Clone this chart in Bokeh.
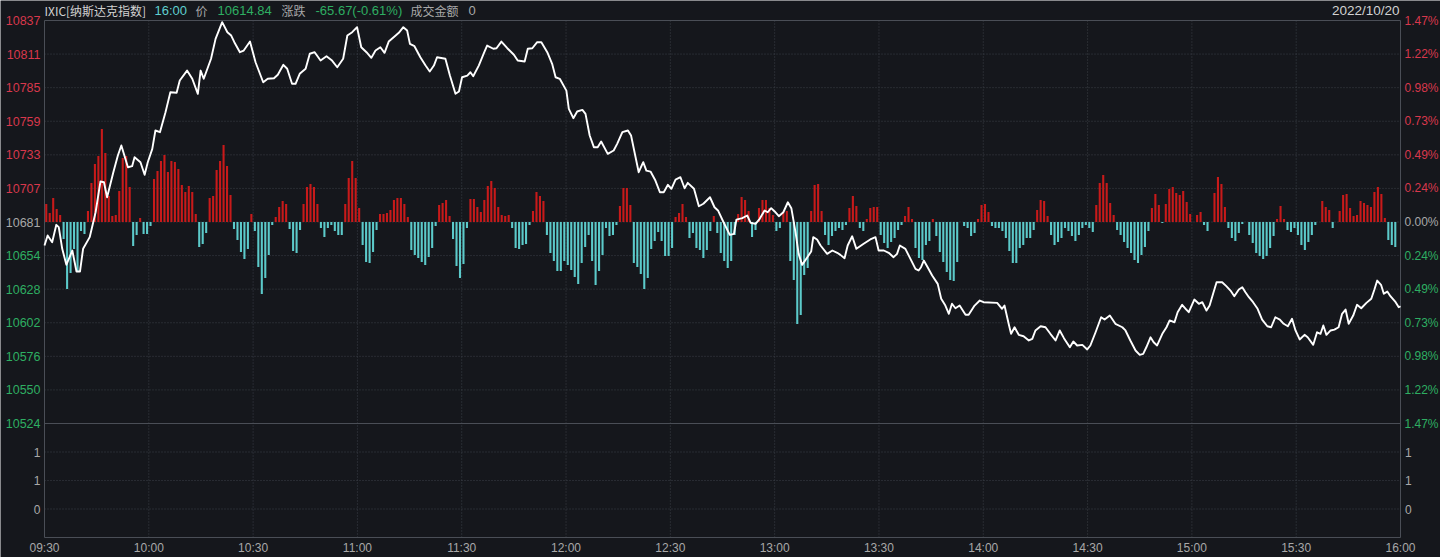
from bokeh.plotting import figure
from bokeh.models import Range1d, LabelSet, Label, ColumnDataSource
from bokeh.embed import file_html
from bokeh.resources import INLINE
from bokeh.core.properties import value

# ---------------- data ----------------
symbol_name = "IXIC[纳斯达克指数]"
quote_time = "16:00"
trade_date = "2022/10/20"
prev_close = 10680.51
last_price = 10614.84
change = -65.67
change_pct = -0.61
turnover = "0"
range_pct = 1.47

# price line: minutes since 09:30 and index level
line_min = [
    0, 0.9, 2.2, 3.4, 4.1, 5.1, 6.3, 8.0, 9.2, 10.2,
    11.1, 13.0, 14.7, 16.1, 17.1, 18.0, 19.8, 21.1, 22.1, 24.0,
    25.2, 25.9, 27.6, 28.8, 29.7, 31.0, 31.9, 33.2, 34.8, 36.2,
    38.0, 38.9, 41.0, 42.5, 44.1, 44.9, 45.8, 47.9, 49.2, 51.1,
    52.6, 53.7, 54.6, 56.2, 57.3, 59.1, 60.7, 62.9, 64.2, 66.0,
    67.1, 68.7, 69.8, 71.2, 72.2, 73.4, 75.1, 76.3, 77.7, 79.4,
    81.1, 82.7, 84.2, 85.9, 87.1, 88.5, 89.9, 91.1, 92.6, 94.0,
    95.2, 96.6, 97.8, 99.0, 101.0, 101.9, 103.2, 104.3, 105.1, 106.4,
    108.1, 109.6, 110.8, 112.0, 112.9, 115.3, 116.6, 118.2, 119.2, 120.1,
    121.6, 122.5, 123.3, 124.9, 126.4, 127.3, 129.1, 130.0, 131.4, 133.1,
    135.0, 136.1, 138.1, 139.0, 140.3, 141.7, 142.9, 144.6, 146.0, 147.0,
    148.2, 150.1, 150.8, 152.1, 153.2, 154.7, 155.6, 156.8, 158.0, 159.1,
    160.1, 162.0, 163.7, 164.7, 166.2, 167.8, 168.7, 170.0, 170.9, 172.2,
    173.1, 174.3, 175.7, 177.0, 178.1, 179.3, 180.3, 181.5, 182.9, 184.1,
    185.0, 186.8, 188.2, 189.5, 191.4, 192.7, 193.7, 195.2, 197.1, 198.3,
    199.0, 200.7, 202.1, 203.1, 204.5, 205.7, 207.1, 208.0, 209.0, 210.0,
    211.2, 212.5, 213.8, 214.8, 216.0, 216.9, 217.9, 219.4, 220.5, 221.1,
    222.2, 223.2, 225.1, 226.6, 228.0, 228.9, 230.1, 231.0, 232.3, 233.5,
    235.6, 237.5, 239.0, 239.9, 241.4, 242.8, 244.2, 245.2, 246.0, 247.6,
    248.8, 250.5, 251.4, 252.1, 252.9, 254.0, 255.3, 256.9, 257.9, 259.1,
    260.1, 261.0, 262.0, 263.2, 264.9, 265.8, 267.5, 269.0, 270.1, 274.0,
    275.4, 276.1, 277.3, 278.0, 279.0, 280.2, 281.6, 283.1, 284.1, 285.0,
    286.5, 287.9, 289.3, 290.8, 292.0, 293.2, 294.9, 295.9, 297.0, 298.5,
    299.9, 300.8, 302.3, 303.9, 304.9, 306.4, 308.0, 310.0, 310.9, 312.3,
    313.8, 315.0, 316.0, 316.9, 318.1, 319.0, 320.0, 321.5, 322.7, 323.6,
    325.0, 325.9, 327.2, 328.2, 329.1, 330.7, 332.0, 333.0, 334.2, 335.1,
    336.1, 337.1, 338.7, 339.9, 341.1, 342.2, 343.5, 344.5, 345.4, 346.4,
    347.6, 348.9, 350.2, 351.7, 352.8, 354.0, 355.3, 356.4, 357.6, 358.8,
    359.8, 361.0, 362.4, 363.3, 364.9, 366.0, 367.0, 367.8, 368.7, 369.9,
    371.0, 372.2, 373.2, 374.2, 375.1, 376.4, 377.5, 378.7, 380.2, 381.6,
    382.5, 383.3, 384.4, 385.2, 386.2, 387.1, 388.6, 389.5, 390,
]
line_price = [
    10662.2, 10670.0, 10664.8, 10678.3, 10676.5, 10659.6, 10647.2, 10658.3, 10641.9, 10641.9,
    10659.6, 10668.7, 10688.1, 10712.1, 10711.5, 10699.8, 10719.3, 10732.3, 10740.1, 10723.2,
    10724.0, 10731.0, 10727.1, 10717.3, 10727.1, 10737.5, 10751.8, 10750.5, 10766.1, 10781.6,
    10781.2, 10790.8, 10798.5, 10792.1, 10780.4, 10798.5, 10792.1, 10807.7, 10823.2, 10836.2,
    10828.4, 10825.8, 10820.6, 10812.8, 10814.1, 10821.1, 10805.0, 10789.4, 10792.1, 10792.5,
    10795.2, 10803.0, 10799.9, 10788.2, 10788.2, 10796.0, 10799.9, 10811.6, 10812.8, 10806.3,
    10809.7, 10806.3, 10801.1, 10807.7, 10825.8, 10828.4, 10832.3, 10816.7, 10812.8, 10808.4,
    10814.1, 10816.7, 10812.3, 10821.1, 10825.8, 10827.9, 10832.3, 10829.7, 10819.3, 10817.5,
    10808.9, 10802.4, 10797.8, 10802.4, 10808.9, 10807.7, 10794.6, 10780.4, 10782.2, 10793.3,
    10794.6, 10797.2, 10794.1, 10802.4, 10812.3, 10818.0, 10815.5, 10815.9, 10821.1, 10815.9,
    10810.8, 10806.3, 10805.6, 10815.5, 10815.9, 10820.6, 10820.6, 10812.8, 10803.8, 10793.3,
    10792.1, 10782.9, 10768.7, 10761.4, 10766.6, 10767.9, 10764.8, 10747.9, 10738.8, 10738.8,
    10743.2, 10733.6, 10736.2, 10741.4, 10750.5, 10751.8, 10747.9, 10731.0, 10719.3, 10727.1,
    10720.6, 10719.8, 10712.8, 10703.7, 10703.7, 10709.5, 10706.4, 10713.6, 10715.4, 10706.8,
    10711.0, 10706.4, 10692.8, 10694.7, 10699.8, 10692.0, 10689.5, 10680.9, 10670.5, 10671.3,
    10682.4, 10683.5, 10685.6, 10679.9, 10679.1, 10683.0, 10689.5, 10688.1, 10691.3, 10688.7,
    10685.0, 10688.1, 10695.9, 10691.3, 10672.6, 10655.7, 10647.1, 10653.1, 10657.5, 10668.7,
    10666.9, 10662.2, 10655.7, 10658.3, 10656.5, 10654.9, 10652.3, 10662.2, 10669.4, 10659.6,
    10663.5, 10666.9, 10668.7, 10658.3, 10658.3, 10656.5, 10653.1, 10655.7, 10662.2, 10659.6,
    10653.1, 10644.0, 10642.7, 10645.3, 10650.5, 10645.3, 10638.8, 10632.3, 10620.7, 10615.4,
    10609.0, 10616.8, 10613.3, 10615.4, 10608.2, 10608.2, 10615.4, 10619.3, 10618.0, 10617.5,
    10612.9, 10615.4, 10601.2, 10593.4, 10598.5, 10592.6, 10591.5, 10588.2, 10589.5, 10596.0,
    10599.3, 10598.5, 10593.4, 10588.2, 10596.0, 10590.0, 10582.9, 10587.4, 10584.3, 10584.8,
    10581.2, 10584.3, 10594.6, 10606.3, 10604.5, 10607.6, 10601.2, 10598.5, 10596.0, 10588.2,
    10580.4, 10577.0, 10577.8, 10582.9, 10590.7, 10586.8, 10584.3, 10593.4, 10598.5, 10603.8,
    10602.4, 10610.2, 10616.0, 10612.9, 10610.2, 10620.1, 10616.8, 10618.0, 10611.5, 10615.4,
    10624.6, 10633.6, 10633.6, 10630.5, 10627.1, 10622.7, 10627.9, 10629.7, 10625.8, 10621.9,
    10618.0, 10612.9, 10604.5, 10599.3, 10598.5, 10606.3, 10604.5, 10601.2, 10599.3, 10605.1,
    10596.0, 10589.0, 10592.6, 10590.7, 10584.8, 10594.6, 10593.4, 10599.9, 10592.6, 10596.0,
    10596.7, 10598.5, 10609.0, 10612.3, 10601.2, 10607.6, 10616.0, 10613.3, 10617.5, 10620.7,
    10627.9, 10634.9, 10631.6, 10624.6, 10626.3, 10622.7, 10618.0, 10614.1, 10614.84,
]

# per-minute flow indicator (one bar per minute, 390 bars)
flow = [
    18, 9, 24, 13, 7, -17, -67, -51, -27, -49,
    -9, -12, 11, 39, 58, 66, 93, 69, 26, 6,
    7, 31, 64, 66, 35, -24, -13, 4, -12, -12,
    -4, 43, 51, 61, 67, 50, 61, 60, 53, 37,
    30, 36, 30, 8, -25, -22, -11, 24, 26, 52,
    61, 77, 56, 27, -7, -18, -30, -37, -27, 8,
    -9, -45, -72, -56, -33, -3, 5, 15, 21, 18,
    -7, -29, -31, -8, 18, 35, 38, 35, 18, -6,
    -15, -6, -3, -9, -13, -13, 18, 44, 61, 44,
    14, -23, -40, -41, -30, -8, 8, 8, 9, 12,
    22, 24, 24, 18, 5, -28, -33, -36, -40, -43,
    -35, -26, -4, 17, 19, 22, 6, -17, -44, -56,
    -42, -6, 23, 23, 15, 10, 22, 36, 41, 34,
    15, 7, 6, 7, -6, -26, -27, -23, -22, -3,
    11, 30, 26, 21, -13, -31, -39, -49, -49, -39,
    -43, -48, -55, -62, -41, -25, -13, -39, -63, -49,
    -33, -6, -14, -13, -3, 16, 34, 34, 17, -41,
    -45, -52, -67, -56, -27, -19, -10, -19, -34, -34,
    -26, 5, 9, 18, 5, -16, -11, -26, -28, -36,
    -28, -9, 6, -11, -31, -39, -46, -39, -13, 8,
    25, 22, 11, -15, -8, 14, 22, 22, 14, 7,
    -9, -6, 9, 11, -39, -58, -102, -93, -53, -46,
    11, 37, 38, 11, -13, -23, -14, -9, -6, -8,
    -3, 14, 26, 16, -6, -9, 3, 14, 15, 15,
    -13, -21, -26, -20, -16, -8, -3, 6, 15, 3,
    -26, -36, -38, -23, -19, 3, -14, -30, -40, -50,
    -58, -59, -40, 0, -4, -6, -14, -11, 3, 17,
    18, 10, -4, -6, -6, -9, -16, -29, -41, -41,
    -26, -23, -16, -16, -8, 12, 22, 21, 6, -13,
    -23, -20, -16, -6, -9, -14, -19, -13, -6, -3,
    -6, -10, 17, 39, 47, 39, 19, 7, -8, -13,
    -20, -26, -31, -38, -41, -33, -25, -9, 14, 28,
    17, -1, 18, 33, 35, 29, 27, 31, 20, 8,
    0, 7, 10, -3, -9, 0, 29, 45, 38, 15,
    -6, -16, -19, -11, -2, 0, -13, -21, -31, -34,
    -37, -34, -26, -14, 3, 16, 3, -8, -10, -6,
    -13, -23, -28, -20, -13, -3, 0, 21, 15, 12,
    -6, 0, 11, 27, 28, 14, 6, 7, 21, 19,
    17, 15, 30, 35, 28, 4, -18, -23, -25, 0,
]

price_tick_labels = ["10837", "10811", "10785", "10759", "10733", "10707", "10681",
                     "10654", "10628", "10602", "10576", "10550", "10524"]
pct_tick_labels = ["1.47%", "1.22%", "0.98%", "0.73%", "0.49%", "0.24%", "0.00%",
                   "0.24%", "0.49%", "0.73%", "0.98%", "1.22%", "1.47%"]
time_tick_min = [0, 30, 60, 90, 120, 150, 180, 210, 240, 270, 300, 330, 360, 390]
time_tick_labels = ["09:30", "10:00", "10:30", "11:00", "11:30", "12:00", "12:30",
                    "13:00", "13:30", "14:00", "14:30", "15:00", "15:30", "16:00"]
lower_tick_vals = [1.125, 0.75, 0.375]
lower_tick_labels = ["1", "1", "0"]
lower_max = 1.5

# ---------------- style / layout ----------------
BG = "#15171c"
GRID = "#3c4048"
BORDER = "#4a4e56"
RED_BAR = "#c81a1a"
CYAN_BAR = "#5ccaca"
RED_TXT = "#d8384c"
GREEN_TXT = "#2eae62"
GRAY_TXT = "#a8a8a8"
LIGHT_TXT = "#d2d2d2"
CYAN_TXT = "#5fcfcf"
FONT = "Liberation Sans"
CJK = "Noto Sans CJK SC"

W, H = 1440, 557                 # whole canvas is the plot frame
PL, PR = 44, 1400                # chart area, pixels
PT, PMAIN, PBOT = 20, 423, 537   # top, main-panel bottom, lower-panel bottom

half = prev_close * range_pct / 100.0
y_hi = prev_close + half
y_main_lo = prev_close - half
px_per_pt = (PMAIN - PT) / (y_hi - y_main_lo)
px_per_min = (PR - PL) / 390.0

x_start = -PL / px_per_min
x_end = 390 + (W - PR) / px_per_min
y_end = y_hi + PT / px_per_pt
y_start = y_main_lo - (H - PMAIN) / px_per_pt
y_panel_bot = y_main_lo - (PBOT - PMAIN) / px_per_pt

zero_px = (PT + PMAIN) / 2.0
flow_range = Range1d(-(H - zero_px), zero_px)
vol_per_px = lower_max / (PBOT - PMAIN)
vol_range = Range1d(-(H - PBOT) * vol_per_px, lower_max + PMAIN * vol_per_px)

step = half / 6.0
price_ticks = [y_hi - k * step for k in range(13)]
tick_colors = [RED_TXT] * 6 + [GRAY_TXT] + [GREEN_TXT] * 6

p = figure(frame_width=W, frame_height=H,
           x_range=Range1d(x_start, x_end), y_range=Range1d(y_start, y_end),
           x_axis_location=None, y_axis_location=None, title=None,
           output_backend="svg", toolbar_location=None,
           min_border=0)
p.extra_y_ranges = {"flow": flow_range, "vol": vol_range}
p.background_fill_color = BG
p.border_fill_color = BG
p.outline_line_color = None
p.grid.visible = False

# dotted grid lines
vx = time_tick_min[1:-1]
p.segment(x0=vx, x1=vx, y0=[y_panel_bot] * len(vx), y1=[y_hi] * len(vx),
          line_color=GRID, line_dash="1 2", line_width=1)
hy = price_ticks[1:-1]
p.segment(x0=[0] * len(hy), x1=[390] * len(hy), y0=hy, y1=hy,
          line_color=GRID, line_dash="1 2", line_width=1)
p.segment(x0=[0] * 3, x1=[390] * 3, y0=lower_tick_vals, y1=lower_tick_vals,
          line_color=GRID, line_dash="1 2", line_width=1, y_range_name="vol")

# panel borders
p.segment(x0=[0, 390, 0, 0, 0], x1=[0, 390, 390, 390, 390],
          y0=[y_panel_bot, y_panel_bot, y_hi, y_main_lo, y_panel_bot],
          y1=[y_hi, y_hi, y_hi, y_main_lo, y_panel_bot],
          line_color=BORDER, line_width=1)

# flow bars
bar_x = [i + 0.5 for i in range(len(flow))]
bar_col = [RED_BAR if v >= 0 else CYAN_BAR for v in flow]
p.vbar(x=bar_x, top=flow, bottom=0, width=0.6, fill_color=bar_col,
       line_color=None, y_range_name="flow")

# price line
p.line(line_min, line_price, line_color="#ffffff", line_width=1.9,
       line_join="round")

def labelset(xs, ys, texts, colors, align, xoff, yoff=0, rng="default", fs="12px"):
    src = ColumnDataSource(dict(x=xs, y=ys, text=texts, c=colors))
    p.add_layout(LabelSet(x="x", y="y", text="text", source=src,
                          x_offset=xoff, y_offset=yoff, y_range_name=rng,
                          text_align=align, text_baseline="middle", text_color="c",
                          text_font=value(FONT), text_font_size=fs))

labelset([0] * 13, price_ticks, price_tick_labels, tick_colors, "right", -4, fs="12.5px")
labelset([390] * 13, price_ticks, pct_tick_labels, tick_colors, "left", 4)
labelset([0] * 3, lower_tick_vals, lower_tick_labels, ["#a9a9a9"] * 3, "right", -4, 0, "vol")
labelset([390] * 3, lower_tick_vals, lower_tick_labels, ["#a9a9a9"] * 3, "left", 4.5, 0, "vol")
labelset(time_tick_min, [y_panel_bot] * 14, time_tick_labels, [GRAY_TXT] * 14,
         "center", 0, -10)

# header
header = [
    (symbol_name, 0, LIGHT_TXT, CJK, "12px"),
    (quote_time, 110, CYAN_TXT, FONT, "13px"),
    ("价", 151, GRAY_TXT, CJK, "12px"),
    (f"{last_price:.2f}", 173, GREEN_TXT, FONT, "13px"),
    ("涨跌", 237, GRAY_TXT, CJK, "12px"),
    (f"{change:.2f}({change_pct:.2f}%)", 271, GREEN_TXT, FONT, "13px"),
    ("成交金额", 366, GRAY_TXT, CJK, "12px"),
    (turnover, 424, GRAY_TXT, FONT, "13px"),
]
for txt, off, col, fnt, fs in header:
    p.add_layout(Label(x=0, y=y_hi, x_offset=off, y_offset=10, text=txt,
                       text_color=col, text_font=fnt, text_font_size=fs,
                       text_baseline="middle", text_align="left"))
p.add_layout(Label(x=390, y=y_hi, x_offset=-1, y_offset=10, text=trade_date,
                   text_color=LIGHT_TXT, text_font=FONT, text_font_size="13.5px",
                   text_baseline="middle", text_align="right"))

html = file_html(p, INLINE)
html = html.replace("<body>", "<body style=\"background:%s;\">" % BG, 1)
open("out.html", "w").write(html)
